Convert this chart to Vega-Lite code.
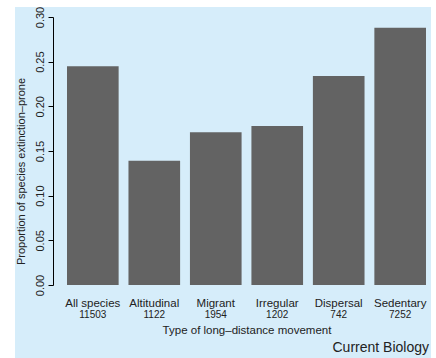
{
  "$schema": "https://vega.github.io/schema/vega-lite/v6.json",
  "autosize": {"type": "none"},
  "padding": {"left": 15, "top": 7, "right": 5, "bottom": 0},
  "width": 416,
  "height": 351,
  "background": "white",
  "title": {"text": "Current Biology", "orient": "bottom", "anchor": "end", "offset": -17, "dx": -2, "fontSize": 14, "fontWeight": "normal", "font": "Liberation Sans", "color": "#222222"},
  "data": {"values": [
    {"movement": "All species", "n": "11503", "proportion": 0.245},
    {"movement": "Altitudinal", "n": "1122", "proportion": 0.139},
    {"movement": "Migrant", "n": "1954", "proportion": 0.171},
    {"movement": "Irregular", "n": "1202", "proportion": 0.178},
    {"movement": "Dispersal", "n": "742", "proportion": 0.234},
    {"movement": "Sedentary", "n": "7252", "proportion": 0.288}
  ]},
  "encoding": {
    "x": {"field": "movement", "type": "nominal", "sort": null,
      "scale": {"range": [52, 411], "paddingInner": 0.16, "paddingOuter": 0},
      "axis": {"title": "Type of long\u2013distance movement", "orient": "bottom", "offset": -73, "labelAngle": 0, "domain": false, "ticks": false, "labelPadding": 12, "labelFontSize": 11.5, "titleFontSize": 11.5, "titleFontWeight": "normal", "titlePadding": 16, "labelColor": "#222222", "titleColor": "#222222"}}
  },
  "layer": [
    {"mark": {"type": "bar", "color": "#636363"},
     "encoding": {
       "y": {"field": "proportion", "type": "quantitative",
         "scale": {"domain": [0, 0.3], "range": [278, 10], "nice": false, "zero": true},
         "axis": {"title": "Proportion of species extinction\u2013prone", "offset": -38, "values": [0, 0.05, 0.1, 0.15, 0.2, 0.25, 0.3], "format": ".2f", "grid": false, "labelAngle": -90, "labelAlign": "center", "labelBaseline": "bottom", "labelPadding": 3, "tickSize": 5, "domainColor": "black", "tickColor": "black", "labelFontSize": 11, "titleFontSize": 11, "titleFontWeight": "normal", "titlePadding": 8, "titleY": 164, "titleAlign": "center", "titleAngle": -90, "labelColor": "#222222", "titleColor": "#222222"}}
     }},
    {"mark": {"type": "text", "fontSize": 10, "dy": 30, "baseline": "middle", "font": "Liberation Sans", "color": "#222222"},
     "encoding": {
       "y": {"datum": 0, "type": "quantitative"},
       "text": {"field": "n", "type": "nominal"}
     }}
  ],
  "config": {
    "font": "Liberation Sans",
    "view": {"fill": "#d6edfa", "stroke": null},
    "axis": {"labelFont": "Liberation Sans", "titleFont": "Liberation Sans"}
  }
}
